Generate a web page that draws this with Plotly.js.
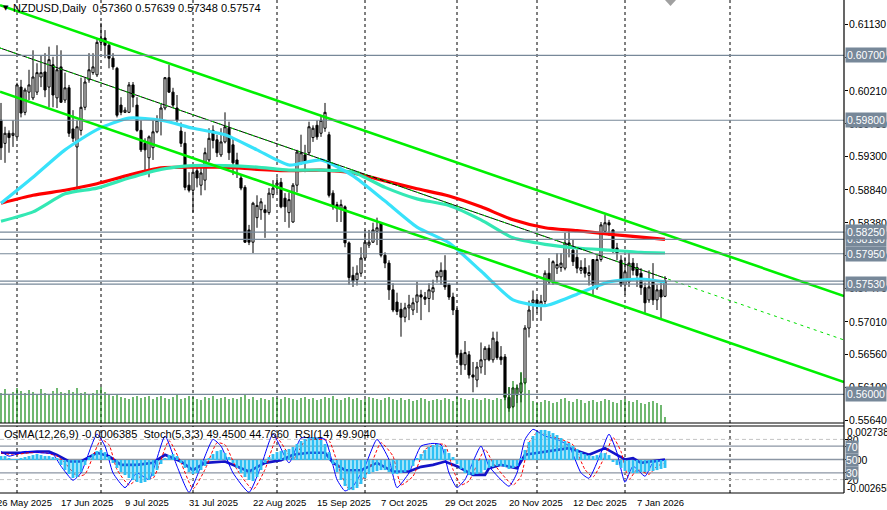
<!DOCTYPE html>
<html><head><meta charset="utf-8">
<script src="https://cdn.plot.ly/plotly-3.0.1.min.js"></script>
<style>html,body{margin:0;padding:0;background:#fff;overflow:hidden}#chart{width:887px;height:510px}</style>
</head><body><div id="chart"></div>
<script>
// ---------- DATA ----------
const openP = [0.5980,0.5948,0.5962,0.5959,0.5957,0.6026,0.5991,0.6019,0.6011,0.6019,0.6040,0.6047,0.6026,0.6057,0.6011,0.6054,0.6008,0.6025,0.5968,0.5943,0.5966,0.5998,0.6036,0.6046,0.6043,0.6088,0.6094,0.6084,0.6066,0.6052,0.6001,0.5991,0.5991,0.6029,0.6001,0.5966,0.5948,0.5928,0.5942,0.5964,0.5980,0.5997,0.6039,0.6019,0.5997,0.5965,0.5948,0.5890,0.5883,0.5910,0.5890,0.5897,0.5925,0.5966,0.5953,0.5932,0.5950,0.5969,0.5946,0.5925,0.5900,0.5887,0.5828,0.5811,0.5845,0.5856,0.5856,0.5852,0.5877,0.5890,0.5894,0.5872,0.5852,0.5839,0.5890,0.5921,0.5932,0.5935,0.5956,0.5973,0.5962,0.5969,0.5960,0.5879,0.5863,0.5858,0.5860,0.5810,0.5765,0.5759,0.5768,0.5789,0.5807,0.5811,0.5826,0.5838,0.5793,0.5782,0.5745,0.5728,0.5718,0.5707,0.5720,0.5717,0.5728,0.5738,0.5735,0.5733,0.5742,0.5763,0.5763,0.5772,0.5752,0.5735,0.5717,0.5657,0.5641,0.5655,0.5627,0.5620,0.5638,0.5648,0.5664,0.5648,0.5673,0.5652,0.5652,0.5596,0.5583,0.5599,0.5603,0.5616,0.5692,0.5727,0.5731,0.5724,0.5729,0.5768,0.5756,0.5775,0.5776,0.5775,0.5810,0.5800,0.5790,0.5772,0.5776,0.5765,0.5787,0.5748,0.5787,0.5826,0.5838,0.5828,0.5803,0.5786,0.5752,0.5756,0.5782,0.5776,0.5768,0.5748,0.5731,0.5756,0.5731,0.5745,0.5736];
const highP = [0.6004,0.5971,0.5966,0.5980,0.6032,0.6036,0.6025,0.6050,0.6077,0.6059,0.6070,0.6073,0.6082,0.6068,0.6084,0.6077,0.6046,0.6029,0.5994,0.5980,0.6039,0.6039,0.6073,0.6073,0.6094,0.6115,0.6105,0.6088,0.6073,0.6054,0.6012,0.5998,0.6033,0.6033,0.6012,0.5980,0.5955,0.5959,0.5980,0.5987,0.6004,0.6040,0.6057,0.6025,0.6015,0.5977,0.5964,0.5908,0.5910,0.5918,0.5915,0.5942,0.5969,0.5973,0.5960,0.5969,0.5991,0.5978,0.5955,0.5935,0.5904,0.5890,0.5835,0.5867,0.5876,0.5872,0.5863,0.5886,0.5897,0.5901,0.5900,0.5879,0.5880,0.5893,0.5939,0.5960,0.5946,0.5978,0.5973,0.5980,0.5987,0.6004,0.5964,0.5883,0.5867,0.5870,0.5862,0.5812,0.5777,0.5779,0.5804,0.5828,0.5828,0.5838,0.5845,0.5839,0.5797,0.5786,0.5754,0.5741,0.5727,0.5727,0.5738,0.5734,0.5756,0.5745,0.5742,0.5754,0.5759,0.5772,0.5783,0.5793,0.5754,0.5741,0.5720,0.5662,0.5674,0.5660,0.5645,0.5645,0.5672,0.5667,0.5669,0.5687,0.5687,0.5667,0.5656,0.5610,0.5610,0.5614,0.5630,0.5696,0.5730,0.5744,0.5735,0.5738,0.5772,0.5789,0.5786,0.5796,0.5796,0.5824,0.5827,0.5814,0.5801,0.5786,0.5789,0.5779,0.5787,0.5793,0.5839,0.5849,0.5842,0.5829,0.5810,0.5793,0.5790,0.5796,0.5789,0.5782,0.5775,0.5755,0.5772,0.5782,0.5752,0.5755,0.57639];
const lowP = [0.5925,0.5921,0.5935,0.5943,0.5955,0.5984,0.5987,0.6008,0.6008,0.6015,0.6026,0.6012,0.5998,0.5998,0.5997,0.6004,0.6004,0.5957,0.5950,0.5883,0.5959,0.5994,0.6032,0.6043,0.6040,0.6080,0.6066,0.6052,0.6050,0.5984,0.5987,0.5990,0.5990,0.5998,0.5964,0.5936,0.5911,0.5901,0.5925,0.5962,0.5959,0.5994,0.6018,0.5997,0.5977,0.5943,0.5883,0.5880,0.5852,0.5887,0.5876,0.5883,0.5922,0.5941,0.5929,0.5929,0.5948,0.5925,0.5904,0.5900,0.5883,0.5810,0.5807,0.5796,0.5831,0.5842,0.5817,0.5849,0.5872,0.5880,0.5858,0.5839,0.5831,0.5838,0.5880,0.5918,0.5908,0.5932,0.5950,0.5953,0.5957,0.5964,0.5873,0.5856,0.5839,0.5839,0.5804,0.5752,0.5749,0.5751,0.5763,0.5786,0.5803,0.5810,0.5807,0.5790,0.5775,0.5731,0.5714,0.5710,0.5680,0.5700,0.5703,0.5710,0.5713,0.5703,0.5724,0.5714,0.5731,0.5755,0.5752,0.5745,0.5731,0.5710,0.5650,0.5627,0.5634,0.5622,0.5603,0.5610,0.5629,0.5627,0.5646,0.5644,0.5648,0.5641,0.5592,0.5576,0.5581,0.5588,0.5589,0.5614,0.5679,0.5702,0.5713,0.5702,0.5724,0.5753,0.5752,0.5767,0.5770,0.5772,0.5790,0.5778,0.5768,0.5767,0.5762,0.5751,0.5738,0.5745,0.5784,0.5824,0.5820,0.5796,0.5786,0.5749,0.5738,0.5749,0.5765,0.5749,0.5738,0.5713,0.5727,0.5724,0.5717,0.5703,0.57348];
const closeP = [0.5942,0.5962,0.5956,0.5962,0.6029,0.5990,0.6022,0.6029,0.6040,0.6046,0.6046,0.6022,0.6064,0.6015,0.6050,0.6005,0.6025,0.5962,0.5955,0.5971,0.5998,0.6033,0.6050,0.6054,0.6088,0.6094,0.6084,0.6066,0.6054,0.5987,0.5991,0.5994,0.6029,0.6012,0.5966,0.5939,0.5939,0.5957,0.5964,0.5980,0.5997,0.6039,0.6019,0.6001,0.5980,0.5948,0.5887,0.5883,0.5908,0.5900,0.5907,0.5935,0.5955,0.5952,0.5935,0.5950,0.5971,0.5935,0.5921,0.5915,0.5886,0.5811,0.5811,0.5865,0.5862,0.5867,0.5852,0.5879,0.5886,0.5893,0.5860,0.5860,0.5870,0.5890,0.5936,0.5935,0.5922,0.5971,0.5969,0.5957,0.5980,0.5991,0.5876,0.5860,0.5858,0.5863,0.5810,0.5762,0.5757,0.5768,0.5789,0.5811,0.5811,0.5828,0.5831,0.5793,0.5782,0.5745,0.5717,0.5715,0.5707,0.5720,0.5724,0.5727,0.5738,0.5735,0.5732,0.5745,0.5748,0.5770,0.5772,0.5749,0.5735,0.5717,0.5655,0.5641,0.5658,0.5627,0.5624,0.5638,0.5648,0.5664,0.5648,0.5678,0.5651,0.5648,0.5596,0.5581,0.5609,0.5609,0.5616,0.5692,0.5717,0.5731,0.5724,0.5729,0.5768,0.5756,0.5784,0.5780,0.5782,0.5810,0.5807,0.5784,0.5775,0.5776,0.5768,0.5769,0.5752,0.5787,0.5835,0.5838,0.5835,0.5802,0.5796,0.5752,0.5770,0.5782,0.5772,0.5765,0.5748,0.5727,0.5749,0.5731,0.5745,0.5735,0.57574];
const volumes = [300,340,290,310,350,320,300,330,310,290,340,300,290,320,350,310,300,330,310,350,300,310,290,300,330,360,310,290,270,280,260,250,240,260,270,250,260,270,240,260,270,250,240,260,280,240,250,270,260,240,230,260,250,270,240,250,260,240,250,240,260,280,240,260,230,250,240,230,260,250,240,260,250,240,230,250,260,240,250,230,240,260,250,270,240,230,250,260,240,250,230,240,260,250,240,230,250,260,240,230,250,230,240,220,230,250,240,220,230,240,230,250,240,220,260,250,240,230,250,240,230,250,240,230,250,240,300,360,420,380,510,450,330,220,200,210,230,220,200,210,240,250,220,210,240,230,200,220,230,210,220,240,230,210,200,230,240,220,210,230,200,190,210,220,200,180,60];

// moving averages, read every 8 bars
const maIdx = [0,8,16,24,32,40,48,56,64,72,80,88,96,104,112,120,128,136,144,152,160,166];
const maFast = [0.5865,0.5901,0.5939,0.5967,0.5983,0.5980,0.5969,0.5960,0.5939,0.5918,0.5925,0.5903,0.5868,0.5832,0.5810,0.5771,0.5731,0.5723,0.5739,0.5756,0.5760,0.5756];
const maMid = [0.5840,0.5853,0.5878,0.5886,0.5900,0.5912,0.5917,0.5917,0.5915,0.5911,0.5911,0.5908,0.5887,0.5871,0.5862,0.5842,0.5817,0.5808,0.5803,0.5800,0.5797,0.5796];
const maSlow = [0.5865,0.5876,0.5883,0.5892,0.5904,0.5914,0.5915,0.5915,0.5912,0.5910,0.5911,0.5907,0.5896,0.5885,0.5875,0.5860,0.5842,0.5831,0.5827,0.5822,0.5818,0.5815];

// channel lines: end points [bar index] / [price]
const chanX = [-0.25, 210.75];
const chanUpper = [0.61395, 0.57364];
const chanLower = [0.60196, 0.56172];
const chanMid = [0.60802, 0.56755];
const chanMidSolidX = [-0.25, 166.5];
const chanMidSolid = [0.60802, 0.57603];

// horizontal levels
const levelPrices = [0.6070,0.5980,0.5815,0.5825,0.5795,0.5757,0.5753,0.5600];
const levelLabels = ['0.60700','0.59800','0.58150','0.58250','0.57950','','0.57530','0.56000'];

// price axis ticks
const priceTicks = [0.6113,0.6067,0.6021,0.5975,0.5930,0.5884,0.5838,0.5792,0.5747,0.5701,0.5656,0.5610,0.5564];
const priceTickText = ['0.61130','0.60670','0.60210','0.59750','0.59300','0.58840','0.58380','0.57920','0.57470','0.57010','0.56560','0.56100','0.55640'];

// date labels (bar index where each label starts) and month grid positions
const dateIdx = [-1,15,31,47,63,79,95,111,127,143,159];
const dateText = ['26 May 2025','17 Jun 2025','9 Jul 2025','31 Jul 2025','22 Aug 2025','15 Sep 2025','7 Oct 2025','29 Oct 2025','20 Nov 2025','12 Dec 2025','7 Jan 2026'];
const gridIdx = [4,25,48,69,91,114,134,156,182.25];

// OsMA histogram (per bar)
const osma = [0.00032,0.00032,0.00016,0.00008,0.00008,0.00016,0.00024,0.00032,0.00040,0.00048,0.00040,0.00032,0.00032,0.00024,0.00016,-0.00040,-0.00081,-0.00113,-0.00145,-0.00137,-0.00097,-0.00040,0.00024,0.00048,0.00072,0.00081,0.00064,0.00032,-0.00024,-0.00064,-0.00097,-0.00121,-0.00145,-0.00161,-0.00177,-0.00185,-0.00177,-0.00161,-0.00129,-0.00081,-0.00032,0.00016,0.00040,0.00048,0.00032,-0.00024,-0.00064,-0.00097,-0.00113,-0.00105,-0.00081,-0.00048,0.00016,0.00048,0.00072,0.00081,0.00056,0.00024,-0.00024,-0.00064,-0.00105,-0.00137,-0.00161,-0.00169,-0.00137,-0.00081,-0.00024,0.00024,0.00048,0.00064,0.00072,0.00081,0.00089,0.00105,0.00129,0.00153,0.00169,0.00177,0.00185,0.00177,0.00161,0.00129,0.00064,-0.00032,-0.00097,-0.00161,-0.00209,-0.00242,-0.00242,-0.00225,-0.00193,-0.00145,-0.00113,-0.00097,-0.00089,-0.00081,-0.00081,-0.00097,-0.00113,-0.00113,-0.00105,-0.00097,-0.00081,-0.00048,0.00016,0.00048,0.00081,0.00105,0.00121,0.00129,0.00113,0.00089,0.00056,0.00024,-0.00032,-0.00072,-0.00105,-0.00121,-0.00121,-0.00113,-0.00105,-0.00081,-0.00064,-0.00056,-0.00048,-0.00048,-0.00056,-0.00072,-0.00064,-0.00048,0.00016,0.00081,0.00145,0.00193,0.00225,0.00242,0.00242,0.00233,0.00217,0.00201,0.00177,0.00153,0.00137,0.00113,0.00089,0.00064,0.00048,0.00040,0.00032,0.00040,0.00056,0.00056,0.00040,-0.00016,-0.00040,-0.00064,-0.00089,-0.00097,-0.00105,-0.00105,-0.00097,-0.00097,-0.00089,-0.00089,-0.00081,-0.00072,-0.00064];

// Stochastic main / signal and RSI (read at turning points)
const stochIdx = [0,2,6,10,13,15,18,20,24,26,28,31,34,37,41,44,47,50,53,55,58,62,65,68,72,75,78,81,84,86,88,91,94,97,99,102,105,108,110,112,114,116,120,122,127,129,131,133,136,139,142,145,147,150,152,154,156,158,161,163,166];
const stochK = [62,55,62,60,58,40,19,30,88,70,30,8,30,20,85,40,1,40,80,70,30,1,40,88,45,82,82,80,20,3,10,40,80,50,8,30,70,74,72,30,8,20,70,40,10,30,80,95,85,80,70,30,22,60,88,60,16,40,25,45,49.45];
const sigIdx = [0,3,7,11,14,16,19,21,25,27,29,32,35,38,42,45,48,51,54,56,59,63,66,69,73,76,79,82,85,87,89,92,95,98,100,103,106,109,111,113,115,117,121,123,128,130,132,134,137,140,143,146,148,151,153,155,157,159,162,164,166];
const stochD = [60,57,60,60,55,45,25,28,80,72,35,12,25,22,78,45,6,35,75,72,35,5,35,82,50,78,80,78,28,6,10,35,75,55,12,25,65,73,72,35,12,18,65,45,12,25,75,90,86,80,72,35,24,55,83,62,20,35,28,40,44.77];
const rsiIdx = [0,5,9,12,14,17,20,24,27,30,34,38,41,45,48,51,56,59,62,66,70,73,77,81,83,86,90,94,98,102,105,108,111,114,118,121,122,125,129,131,136,142,147,151,156,158,160,163,166];
const rsiVal = [60,60,62,62,57,47,47,60,55,42,42,45,57,47,34,45,47,40,32,45,49,57,60,60,45,34,34,45,32,32,39,42,47,40,27,27,37,42,37,57,62,67,57,67,50,52,45,47,49.9];
const stochLevels = [80,70,50,30,20];
const headerText = 'NZDUSD,Daily';
const osmaText = 'OsMA(12,26,9) -0.0006385';
const stochText = 'Stoch(5,3,3) 49.4500 44.7660';
const rsiText = 'RSI(14) 49.9040';

// ---------- LAYOUT GEOMETRY ----------
const W = 887, H = 510, PR = 844;
const xDom = [0, PR / W];
const mainBot = 423, indTop = 426, indBot = 493;
const py = v => 1 - v / H;
const mainDom = [py(mainBot), 1];
const indDom = [py(indBot), py(indTop)];
const xRange = [-0.25, 210.75];
const yRange = [0.55604, 0.61467];
const FONT = 'Liberation Sans Narrow, Liberation Sans, Arial, sans-serif';
const idx = openP.map((_, i) => i);
const barToPaper = i => (1 + 4 * i) / W;

const traces = [];
traces.push({type:'bar', x: idx, y: volumes, xaxis:'x', yaxis:'y2', width:0.28, marker:{color:'#008000', line:{width:0}}, hoverinfo:'skip'});
traces.push({type:'candlestick', x: idx, open: openP, high: highP, low: lowP, close: closeP, xaxis:'x', yaxis:'y', whiskerwidth:0,
  increasing:{line:{color:'#000', width:1}, fillcolor:'#ffffff'}, decreasing:{line:{color:'#000', width:1}, fillcolor:'#000000'}, hoverinfo:'skip'});
traces.push({type:'scatter', mode:'lines', x: maIdx, y: maSlow, xaxis:'x', yaxis:'y', line:{color:'#ff0000', width:3.2, shape:'spline', smoothing:0.6}, hoverinfo:'skip'});
traces.push({type:'scatter', mode:'lines', x: maIdx, y: maMid, xaxis:'x', yaxis:'y', line:{color:'#33e8b4', width:3.2, shape:'spline', smoothing:0.6}, hoverinfo:'skip'});
traces.push({type:'scatter', mode:'lines', x: maIdx, y: maFast, xaxis:'x', yaxis:'y', line:{color:'#38e2fa', width:3.2, shape:'spline', smoothing:0.6}, hoverinfo:'skip'});
traces.push({type:'scatter', mode:'lines', x: chanX, y: chanUpper, xaxis:'x', yaxis:'y', line:{color:'#00f000', width:2.6}, hoverinfo:'skip'});
traces.push({type:'scatter', mode:'lines', x: chanX, y: chanLower, xaxis:'x', yaxis:'y', line:{color:'#00f000', width:2.6}, hoverinfo:'skip'});
traces.push({type:'scatter', mode:'lines', x: chanMidSolidX, y: chanMidSolid, xaxis:'x', yaxis:'y', line:{color:'#000', width:1}, hoverinfo:'skip'});
traces.push({type:'scatter', mode:'lines', x: chanX, y: chanMid, xaxis:'x', yaxis:'y', line:{color:'#00e000', width:1, dash:'3px,4px'}, hoverinfo:'skip'});
traces.push({type:'bar', x: idx, y: osma, xaxis:'x2', yaxis:'y4', width:0.72, marker:{color:'#2ec0f4', line:{width:0}}, hoverinfo:'skip'});
traces.push({type:'scatter', mode:'lines', x: rsiIdx, y: rsiVal, xaxis:'x2', yaxis:'y3', line:{color:'#1414c8', width:2.6}, hoverinfo:'skip'});
traces.push({type:'scatter', mode:'lines', x: sigIdx, y: stochD, xaxis:'x2', yaxis:'y3', line:{color:'#ff0000', width:1, dash:'3px,2px', shape:'spline', smoothing:0.5}, hoverinfo:'skip'});
traces.push({type:'scatter', mode:'lines', x: stochIdx, y: stochK, xaxis:'x2', yaxis:'y3', line:{color:'#0000ff', width:1, shape:'spline', smoothing:0.5}, hoverinfo:'skip'});

const shapes = [];
gridIdx.forEach(g => {
  shapes.push({type:'line', xref:'x', yref:'paper', x0:g, x1:g, y0:mainDom[0], y1:mainDom[1], line:{color:'#000', width:1, dash:'3px,3px'}, layer:'below'});
  shapes.push({type:'line', xref:'x', yref:'paper', x0:g, x1:g, y0:indDom[0], y1:indDom[1], line:{color:'#000', width:1, dash:'3px,3px'}, layer:'below'});
});
levelPrices.forEach(p => shapes.push({type:'line', xref:'x', yref:'y', x0:xRange[0], x1:xRange[1], y0:p, y1:p, line:{color:'#778899', width:1.2}, layer:'above'}));
stochLevels.forEach(l => {
  const solid = (l===70||l===50||l===30);
  shapes.push({type:'line', xref:'x2', yref:'y3', x0:xRange[0], x1:xRange[1], y0:l, y1:l, line:{color: solid ? '#8c96a4' : '#c4c4c4', width: solid ? 1.3 : 1, dash: solid ? 'solid' : '4px,3px'}, layer:'below'});
});
const hline = (ypx) => shapes.push({type:'line', xref:'paper', yref:'paper', x0:0, x1:xDom[1], y0:py(ypx), y1:py(ypx), line:{color:'#000', width:1}});
hline(mainBot); hline(indTop); hline(indBot);
shapes.push({type:'line', xref:'paper', yref:'paper', x0:xDom[1], x1:xDom[1], y0:py(indBot), y1:1, line:{color:'#000', width:1.2}});
shapes.push({type:'path', xref:'paper', yref:'paper', path:`M ${665/W} 1 L ${676/W} 1 L ${670.5/W} ${py(6)} Z`, fillcolor:'#a0a0a0', line:{width:0}});

const annotations = [];
priceTicks.forEach((p, k) => annotations.push({xref:'paper', yref:'y', x:(PR+3)/W, y:p, xanchor:'left', yanchor:'middle', text:priceTickText[k], showarrow:false, font:{family:FONT, size:10.5, color:'#000'}}));
levelPrices.forEach((p, k) => { if (!levelLabels[k]) return;
  annotations.push({xref:'paper', yref:'y', x:(PR+1)/W, y:p, xanchor:'left', yanchor:'middle', text:levelLabels[k], showarrow:false, bgcolor:'#778899', borderpad:1, font:{family:FONT, size:10.5, color:'#ffffff'}}); });
annotations.push({xref:'paper', yref:'paper', x:1/W, y:py(8), xanchor:'left', yanchor:'middle', text:'▼', showarrow:false, font:{family:'DejaVu Sans', size:7, color:'#000'}});
annotations.push({xref:'paper', yref:'paper', x:11/W, y:py(8), xanchor:'left', yanchor:'middle', showarrow:false,
  text: headerText + '  ' + openP[openP.length-1].toFixed(5) + ' ' + highP[highP.length-1].toFixed(5) + ' ' + lowP[lowP.length-1].toFixed(5) + ' ' + closeP[closeP.length-1].toFixed(5), font:{family:FONT, size:11, color:'#000'}});
annotations.push({xref:'paper', yref:'paper', x:2/W, y:py(434), xanchor:'left', yanchor:'middle', showarrow:false, text: osmaText + '  ' + stochText + '  ' + rsiText, font:{family:FONT, size:11, color:'#000'}});
dateIdx.forEach((d, k) => annotations.push({xref:'paper', yref:'paper', x: barToPaper(d) - 2/W, y: py(502), xanchor:'left', yanchor:'middle', showarrow:false, text: dateText[k], font:{family:FONT, size:9.5, color:'#000'}}));
const indLab = (txt, ypx, box, sz) => annotations.push({xref:'paper', yref:'paper', x:(PR+(box?1:1.5))/W, y:py(ypx), xanchor:'left', yanchor:'middle', showarrow:false, text:txt, bgcolor: box ? '#778899' : 'rgba(0,0,0,0)', borderpad:0, font:{family:FONT, size:sz, color: box ? '#ffffff' : '#000'}});
indLab('0.002738', 432, false, 10); indLab('80', 440, false, 10.5); indLab('0.00', 460, false, 10.5); indLab('20', 480, false, 10.5); indLab('-0.002655', 488, false, 10);
indLab('70', 447, true, 10.5); indLab('50', 460, true, 10.5); indLab('30', 473, true, 10.5);

const layout = {
  width: W, height: H, margin:{l:0, r:0, t:0, b:0}, paper_bgcolor:'#fff', plot_bgcolor:'#fff', showlegend:false, dragmode:false, boxgap:0.25,
  xaxis:{domain:xDom, range:xRange, anchor:'y', showticklabels:false, showgrid:false, zeroline:false, showline:false, ticks:'', rangeslider:{visible:false}, fixedrange:true},
  xaxis2:{domain:xDom, range:xRange, anchor:'y3', showticklabels:false, showgrid:false, zeroline:false, showline:false, ticks:'', fixedrange:true},
  yaxis:{domain:mainDom, range:yRange, anchor:'x', side:'right', tickvals:priceTicks, showticklabels:false, ticks:'outside', ticklen:3, tickcolor:'#000', showgrid:false, zeroline:false, showline:false, fixedrange:true, automargin:false},
  yaxis2:{overlaying:'y', range:[0, 4230], visible:false, fixedrange:true},
  yaxis3:{domain:indDom, range:[0,100], anchor:'x2', side:'right', tickvals:[80,70,50,30,20], showticklabels:false, ticks:'outside', ticklen:3, tickcolor:'#000', showgrid:false, zeroline:false, showline:false, fixedrange:true, automargin:false},
  yaxis4:{overlaying:'y3', range:[-0.002655, 0.002738], visible:false, fixedrange:true},
  shapes: shapes, annotations: annotations
};
Plotly.newPlot('chart', traces, layout, {displayModeBar:false, staticPlot:true});
</script></body></html>
